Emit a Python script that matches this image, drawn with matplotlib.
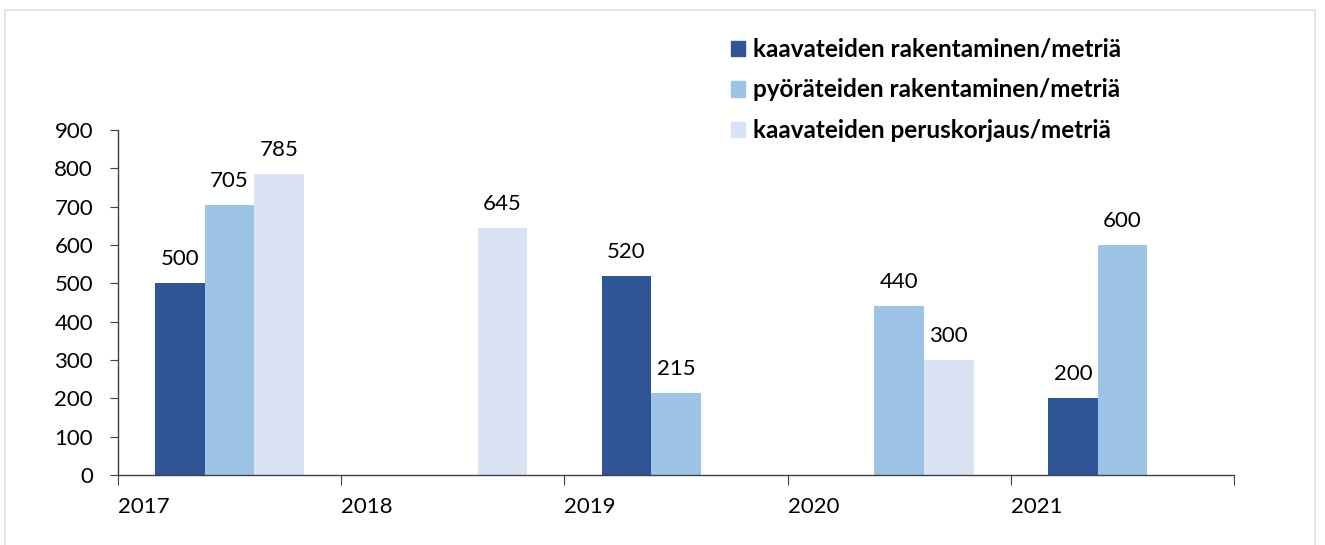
import numpy as np
import matplotlib.pyplot as plt
from matplotlib.patches import Patch, Rectangle

# data
years = ['2017', '2018', '2019', '2020', '2021']
kaava_rak = [500, np.nan, 520, np.nan, 200]
pyora_rak = [705, np.nan, 215, 440, 600]
kaava_perus = [785, 645, np.nan, 300, np.nan]

series = [
    ('kaavateiden rakentaminen/metriä', kaava_rak, '#2F5597'),
    ('pyöräteiden rakentaminen/metriä', pyora_rak, '#9DC3E6'),
    ('kaavateiden peruskorjaus/metriä', kaava_perus, '#DAE3F3'),
]

plt.rcParams['font.family'] = ['Lato', 'DejaVu Sans']
plt.rcParams['font.size'] = 16

fig = plt.figure(figsize=(13.25, 5.45), dpi=100)
ax = fig.add_axes([118 / 1325, 1 - 475 / 545, 1116 / 1325, 345 / 545])

# light frame around the chart area
fig.patches.append(Rectangle((5 / 1325, -0.05), 1310 / 1325, 1 - 10 / 545 + 0.05,
                             transform=fig.transFigure, fill=False,
                             edgecolor='#DCE6F2', linewidth=1.5))

x = np.arange(len(years))
w = 0.222
for i, (name, vals, col) in enumerate(series):
    vals = np.array(vals, dtype=float)
    pos = x + (i - 1) * w
    ax.bar(pos, np.nan_to_num(vals), width=w, color=col, label=name)
    for px, v in zip(pos, vals):
        if not np.isnan(v):
            ax.annotate(f'{int(v)}', (px, v), xytext=(0, 10), textcoords='offset points',
                        ha='center', va='bottom', fontsize=16)

ax.set_xlim(-0.5, 4.5)
ax.set_ylim(0, 900)
ax.set_yticks(range(0, 901, 100))

# category labels sit at the left boundary tick of each year
ax.set_xticks(np.arange(-0.5, 5, 1.0))
ax.set_xticklabels(years + [''], ha='left')
ax.tick_params(axis='x', length=7, pad=9, color='#404040')
ax.tick_params(axis='y', length=6, pad=12, color='#404040')

for s in ['top', 'right']:
    ax.spines[s].set_visible(False)
for s in ['left', 'bottom']:
    ax.spines[s].set_color('#404040')
    ax.spines[s].set_linewidth(1.0)

handles = [Patch(color=c, label=n) for n, _, c in series]
leg = fig.legend(handles=handles, loc='upper left', bbox_to_anchor=(709 / 1325, 1 - 16 / 545),
                 frameon=False, handlelength=0.6, handleheight=0.6, handletextpad=0.3,
                 labelspacing=0.72, prop={'weight': 'bold', 'size': 17.5})

fig.savefig('out.png', dpi=100)
